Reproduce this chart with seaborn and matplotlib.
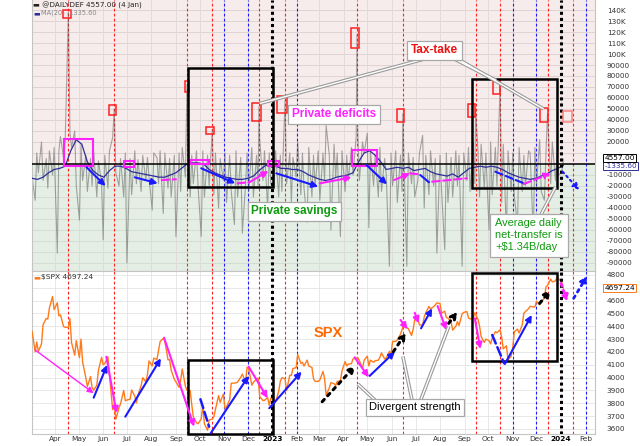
import pandas as pd
import numpy as np
import matplotlib
matplotlib.use('Agg')
import matplotlib.pyplot as plt
import matplotlib.dates as mdates
from matplotlib.patches import Rectangle
import seaborn as sns

# ---------------- data ----------------
START = '2022-03-03'
# daily deficit (thousands), sampled every 2 business days
deficit_k = [
    -12, -33, 10, -8, 20, -15, 5, -22, 12, -10, 15,            # Mar 22
    -81, 12, 25, 5, 22, 10, 28, 15, 30, -20,                    # Apr
    -51, 18, -15, 8, -25, 5, -20, 12, -30, 3, -18,              # May
    -69, 8, -22, 12, 24, 10, -8, -20, 5, -30, 10,               # Jun
    -90, 5, -28, 12, -18, 4, -25, 8, -15, 6, -12,               # Jul
    -42, 10, 6, -18, 12, -45, 10, -22, 5, -30, 8,               # Aug
    -66, 10, -25, 15, -12, 20, -30, 8, -18, 12, -20,            # Sep
    -66, 12, -30, 8, -20, 15, -28, 10, -40, 5, -15,             # Oct
    10, -35, 8, -25, -55, 12, -30, 6, -63, -20, 10,             # Nov
    -25, 15, -30, 8, -20, 22, -15, 12, -40, 10, -18,            # Dec
    -20, 12, -30, 8, -25, 15, -18, 10, -35, 6, -12,             # Jan 23
    20, -28, 10, -22, -53, 15, -30, 8, -20, 12,                 # Feb
    -33, 10, -15, 35, 8, -60, 18, -12, 10, -66, 12,             # Mar
    -25, 8, -15, 15, -10, 25, 30, -15, 20, 10,                  # Apr
    28, -58, 12, -20, 8, -30, 15, -25, 5, -10, -93, 10,         # May
    -20, 12, -35, 8, -25, 15, -93, 10, -18, 6, -30,             # Jun
    -15, 10, 26, -40, 8, -28, 12, -20, 5, -81,                  # Jul
    8, -25, -78, 10, -35, 6, -30, 12, -20, 8, -93, 10,          # Aug
    -15, 15, -25, 20, -18, 12, -30, 18, -22, 10,                # Sep
    -60, 20, -28, 15, -20, 10, -35, 18, -63, 12, -25,           # Oct
    10, -30, -55, 15, -25, 8, -20, 12, 10, -66, 15,             # Nov
    -20, 22, -25, -33, 10, 15, -18, 20, -15, 8, -10,            # Dec
    -8, 4.557,                                                  # Jan 24
]
tax_dates = ['2022-04-18', '2022-06-15', '2022-09-15', '2022-10-17', '2022-12-15',
             '2023-01-17', '2023-04-18', '2023-06-15', '2023-09-15', '2023-10-16',
             '2023-12-15']
tax_k = [138, 50, 72, 31, 52, 58, 118, 46, 50, 72, 46]

# MA(20) of the deficit (thousands), weekly readings
ma20_k = [
    -13, -14, -12, -8, -5,
    -4, -2, 12, 22,
    18, 2, -6, -10,
    -12, -6, -2, -2, -4,
    -7, -8, -9, -10,
    -11, -12, -12, -10,
    -8, -4, 0, 1, 1,
    0, -5, -8, -10,
    -12, -13, -14, -14,
    -13, -11, -6, -2, 0,
    -2, -4, -4, -5,
    -5, -7, -10, -12,
    -14, -15, -14, -12, -11,
    -10, -8, 2, 10,
    12, 8, 2, -5,
    -4, -3, -4, -3, -6,
    -5, -4, -7, -9,
    -10, -11, -9, -12, -8,
    -4, -3, -2, -3,
    -2, -3, -5, -8,
    -10, -12, -13, -14, -13,
    -11, -9, -6, -4,
    -1.336,
]

# S&P 500 closes, every 2 business days
spx_close = [
    4363, 4201, 4278, 4204, 4262, 4412, 4461, 4456, 4543, 4632, 4530,
    4583, 4481, 4488, 4397, 4392, 4391, 4459, 4272, 4175, 4288,
    4155, 4300, 4123, 4001, 3930, 4008, 3923, 3901, 3941, 4057, 4158,
    4101, 4109, 4161, 4018, 3750, 3790, 3675, 3765, 3796, 3900, 3819,
    3825, 3831, 3903, 3855, 3802, 3863, 3937, 3999, 3967, 4024, 4130,
    4091, 4152, 4140, 4210, 4280, 4305, 4284, 4138, 4141, 4058, 3986,
    3967, 3924, 3980, 4067, 3932, 3901, 3900, 3790, 3693, 3647, 3640,
    3678, 3783, 3640, 3589, 3669, 3677, 3695, 3752, 3859, 3807, 3872,
    3760, 3771, 3828, 3956, 3957, 3959, 3965, 4003, 4027, 3964, 4080,
    4072, 3941, 3963, 3991, 3996, 3852, 3821, 3822, 3845, 3783, 3840,
    3824, 3808, 3893, 3970, 3999, 3991, 3899, 4019, 4016, 4071, 4077,
    4180, 4111, 4118, 4090, 4136, 4090, 4079, 3991, 3970, 3970,
    3982, 4048, 3992, 3862, 3920, 3960, 3952, 3937, 3971, 3971, 4051,
    4125, 4091, 4105, 4109, 4146, 4151, 4155, 4133, 4071, 4135,
    4167, 4091, 4136, 4119, 4131, 4136, 4158, 4192, 4145, 4151, 4205, 4180,
    4282, 4283, 4293, 4338, 4373, 4410, 4389, 4381, 4328, 4376, 4450,
    4455, 4411, 4410, 4472, 4505, 4555, 4534, 4554, 4566, 4582,
    4577, 4502, 4518, 4468, 4464, 4437, 4370, 4400, 4436, 4406, 4497, 4508,
    4515, 4465, 4457, 4461, 4505, 4454, 4402, 4320, 4274, 4300,
    4288, 4263, 4308, 4358, 4349, 4373, 4314, 4224, 4248, 4137, 4167,
    4237, 4358, 4378, 4347, 4411, 4502, 4514, 4538, 4556, 4550, 4551,
    4595, 4567, 4586, 4622, 4707, 4719, 4768, 4746, 4754, 4781, 4770,
    4743, 4697,
]

month_labels = ['Apr', 'May', 'Jun', 'Jul', 'Aug', 'Sep', 'Oct', 'Nov', 'Dec', '2023',
                'Feb', 'Mar', 'Apr', 'May', 'Jun', 'Jul', 'Aug', 'Sep', 'Oct', 'Nov', 'Dec',
                '2024', 'Feb']
top_ticks = [140, 130, 120, 110, 100, 90, 80, 70, 60, 50, 40, 30, 20,
             -10, -20, -30, -40, -50, -60, -70, -80, -90]
bot_ticks = [4800, 4600, 4500, 4400, 4300, 4200, 4100, 4000, 3900, 3800, 3700, 3600]

red_lines = ['2022-04-18', '2022-06-15', '2022-09-15', '2022-10-17', '2022-12-15',
             '2023-01-17', '2023-04-18', '2023-06-15', '2023-09-15', '2023-10-16',
             '2023-12-15', '2024-01-16']
blue_lines = ['2022-11-01', '2022-12-01', '2023-02-01', '2023-11-01', '2023-12-01', '2024-02-01']
year_lines = ['2023-01-01', '2024-01-01']

# ---------------- style ----------------
sns.set_theme(style='white')
plt.rcParams['font.family'] = ['DejaVu Sans']
ANN = ['Liberation Sans', 'DejaVu Sans']
RED, BLUE, MAG, GRN, ORG = '#ff2020', '#1a1aff', '#ff22ff', '#0f9a0f', '#ff7a1a'

def D(s):
    return mdates.date2num(pd.Timestamp(s))

fig = plt.figure(figsize=(6.4, 4.46), dpi=100)
L, W = 32 / 640, (595 - 32) / 640
ax1 = fig.add_axes([L, 1 - 271 / 446, W, 271 / 446])
ax2 = fig.add_axes([L, 1 - 434 / 446, W, (434 - 271) / 446])
xmin, xmax = D('2022-03-03'), D('2024-02-13')

# ---------------- top panel ----------------
ax1.set_xlim(xmin, xmax)
ax1.set_ylim(-97.3, 149.1)
ax1.axhspan(0, 149.1, color='#f7ecec', zorder=0)
ax1.axhspan(-97.3, 0, color='#e5eee5', zorder=0)
for v in range(-90, 150, 10):
    ax1.axhline(v, color='#dccfcf' if v > 0 else '#cfdccf', lw=0.6, zorder=0.5)

def_df = pd.DataFrame({'date': pd.bdate_range(START, periods=len(deficit_k), freq='2B'),
                       'val': deficit_k})
tax_df = pd.DataFrame({'date': pd.to_datetime(tax_dates), 'val': tax_k})
def_df = pd.concat([def_df[~def_df['date'].isin(tax_df['date'])], tax_df]).sort_values('date')
sns.lineplot(data=def_df, x='date', y='val', ax=ax1, color='#555555', alpha=0.5,
             lw=0.8, estimator=None, zorder=2)
ma_df = pd.DataFrame({'date': pd.date_range(START, periods=len(ma20_k), freq='7D'), 'val': ma20_k})
sns.lineplot(data=ma_df, x='date', y='val', ax=ax1, color='#2e2e9a', lw=0.9,
             estimator=None, zorder=3)
ax1.axhline(0, color='black', lw=1.1, zorder=3.5)

# ---------------- bottom panel ----------------
ax2.set_xlim(xmin, xmax)
ax2.set_ylim(3560, 4831)
ax2.set_facecolor('white')
for v in range(3600, 4900, 100):
    ax2.axhline(v, color='#e4e4e4', lw=0.6, zorder=0.5)
spx_df = pd.DataFrame({'date': pd.bdate_range(START, periods=len(spx_close), freq='2B'),
                       'val': spx_close})
sns.lineplot(data=spx_df, x='date', y='val', ax=ax2, color=ORG, lw=1.0,
             estimator=None, zorder=3)

month_pos = pd.date_range('2022-04-01', periods=len(month_labels), freq='MS')
for ax in (ax1, ax2):
    for m in month_pos:
        ax.axvline(m, color='#e0d8d8' if ax is ax1 else '#e4e4e4', lw=0.6, zorder=0.6)
    for d in red_lines:
        ax.axvline(D(d), color=RED, lw=0.8, ls=(0, (2.5, 2)), zorder=1)
    for d in blue_lines:
        ax.axvline(D(d), color=BLUE, lw=0.8, ls=(0, (2.5, 2)), zorder=1)
    for d in year_lines:
        ax.axvline(D(d), color='black', lw=2.2, ls=(0, (1, 1)), zorder=4)
    ax.set_xlabel('')
    ax.set_ylabel('')
    ax.yaxis.tick_right()
    ax.tick_params(axis='x', length=0, labelsize=5.3, colors='#333333', pad=1.2)
    ax.tick_params(axis='y', length=0, labelsize=5.2, colors='#333333', pad=8.5)
    for s in ax.spines.values():
        s.set_color('#c4c4c4')
        s.set_linewidth(0.8)

ax1.set_xticks([])
ax1.set_yticks(top_ticks)
ax1.set_yticklabels([f'{v}K' if v >= 100 else f'{v * 1000}' for v in top_ticks])
ax2.set_yticks(bot_ticks)
ax2.set_yticklabels([str(v) for v in bot_ticks])
ax2.set_xticks(month_pos)
ax2.set_xticklabels(month_labels)
for lab in ax2.get_xticklabels():
    if lab.get_text() in ('2023', '2024'):
        lab.set_fontweight('bold')
        lab.set_color('black')
ax1.spines['top'].set_visible(False)

# ---------------- annotations ----------------
def rect(ax, d0, d1, v0, v1, color, lw):
    ax.add_patch(Rectangle((D(d0), v0), D(d1) - D(d0), v1 - v0, fill=False,
                           ec=color, lw=lw, zorder=6, clip_on=False))

red_rects = [('2022-04-11', '2022-04-21', 132.7, 140.0), ('2022-06-08', '2022-06-17', 44.5, 53.6),
             ('2022-09-12', '2022-09-18', 65.5, 75.5), ('2022-10-09', '2022-10-19', 27.3, 33.6),
             ('2022-12-06', '2022-12-18', 39.1, 55.5), ('2023-01-07', '2023-01-20', 46.4, 61.8),
             ('2023-04-11', '2023-04-20', 105.5, 123.6), ('2023-06-07', '2023-06-16', 38.2, 50.0),
             ('2023-09-05', '2023-09-14', 42.7, 54.6), ('2023-10-07', '2023-10-16', 63.6, 76.4),
             ('2023-12-05', '2023-12-15', 38.2, 50.9)]
for r in red_rects:
    rect(ax1, *r, RED, 1.1)
rect(ax1, '2024-01-04', '2024-01-15', 38.2, 48.2, '#ff8080', 1.1)

mag_rects = [('2022-04-12', '2022-05-19', -1.5, 22.5), ('2022-06-27', '2022-07-10', -2.5, 3.0),
             ('2022-09-19', '2022-10-13', -0.3, 3.6), ('2022-12-26', '2023-01-09', -1.8, 3.0),
             ('2023-04-12', '2023-05-13', -1.8, 12.7)]
for r in mag_rects:
    rect(ax1, *r, MAG, 1.5)

rect(ax1, '2022-09-16', '2023-01-02', -20.9, 87.3, 'black', 1.8)
rect(ax1, '2023-09-11', '2023-12-27', -21.8, 77.3, 'black', 1.8)
rect(ax2, '2022-09-16', '2023-01-02', 3562, 4137, 'black', 1.8)
rect(ax2, '2023-09-11', '2023-12-27', 4132, 4813, 'black', 1.8)

def arrow(ax, d0, v0, d1, v1, color, ls='-', head=True, lw=1.5):
    ax.annotate('', xy=(D(d1), v1), xytext=(D(d0), v0), zorder=7, annotation_clip=False,
                arrowprops=dict(arrowstyle='-|>' if head else '-', color=color, lw=lw,
                                linestyle=ls, shrinkA=0, shrinkB=0, mutation_scale=9))

top_arrows = [
    ('2022-05-11', -3.0, '2022-06-04', -20.0, BLUE, '-', True),
    ('2022-07-11', -12.1, '2022-08-09', -17.6, BLUE, '-', True),
    ('2022-08-14', -14.6, '2022-09-01', -13.9, MAG, '--', False),
    ('2022-10-03', -3.9, '2022-11-15', -17.6, BLUE, '-', True),
    ('2022-11-18', -17.6, '2022-12-02', -16.6, MAG, '--', False),
    ('2022-12-02', -17.0, '2022-12-27', -6.4, MAG, '-', True),
    ('2023-01-06', -8.5, '2023-02-28', -20.6, BLUE, '-', True),
    ('2023-03-02', -17.6, '2023-04-11', -12.1, MAG, '-', True),
    ('2023-04-30', -0.9, '2023-05-26', -18.5, BLUE, '-', True),
    ('2023-06-04', -14.6, '2023-06-24', -8.5, MAG, '-', True),
    ('2023-06-24', -8.5, '2023-07-07', -9.5, MAG, '--', False),
    ('2023-07-07', -10.0, '2023-07-18', -16.6, BLUE, '-', False),
    ('2023-07-22', -16.1, '2023-09-04', -13.0, MAG, '--', False),
    ('2023-10-10', -7.0, '2023-11-15', -17.6, BLUE, '--', False),
    ('2023-11-15', -18.2, '2023-12-19', -8.5, MAG, '--', True),
    ('2024-01-03', -7.0, '2024-01-24', -23.6, BLUE, ':', True),
]
for a in top_arrows:
    arrow(ax1, *a)

bot_arrows = [
    ('2022-03-07', 4215, '2022-05-20', 3878, MAG, '-', True, 1.0),
    ('2022-05-20', 3843, '2022-06-06', 4098, BLUE, '-', True, 1.5),
    ('2022-06-05', 4163, '2022-06-18', 3722, MAG, '-', True, 1.5),
    ('2022-06-29', 3695, '2022-08-13', 4150, BLUE, '-', True, 1.5),
    ('2022-08-17', 4311, '2022-09-24', 3617, MAG, '-', True, 1.5),
    ('2022-10-02', 3831, '2022-10-13', 3617, BLUE, '--', False, 1.8),
    ('2022-10-15', 3566, '2022-12-02', 4013, BLUE, '-', True, 1.5),
    ('2022-12-02', 4085, '2022-12-26', 3839, MAG, '-', True, 1.5),
    ('2022-12-28', 3761, '2023-02-07', 4046, BLUE, '-', True, 1.5),
    ('2023-03-05', 3812, '2023-04-16', 4093, 'black', ':', True, 2.2),
    ('2023-04-15', 4158, '2023-05-03', 4002, MAG, '-', True, 1.5),
    ('2023-05-04', 4013, '2023-06-05', 4202, BLUE, '-', True, 1.5),
    ('2023-06-03', 4202, '2023-06-19', 4350, 'black', ':', True, 2.2),
    ('2023-06-12', 4449, '2023-06-21', 4377, MAG, '-', True, 1.5),
    ('2023-06-30', 4506, '2023-07-05', 4423, MAG, '-', True, 1.5),
    ('2023-07-08', 4384, '2023-07-22', 4540, BLUE, '-', True, 1.5),
    ('2023-07-29', 4558, '2023-08-09', 4371, MAG, '-', True, 1.5),
    ('2023-08-12', 4423, '2023-08-23', 4514, 'black', ':', True, 2.2),
    ('2023-09-14', 4462, '2023-09-21', 4223, MAG, '-', True, 1.5),
    ('2023-10-06', 4332, '2023-10-21', 4112, BLUE, '--', False, 1.8),
    ('2023-10-22', 4106, '2023-11-25', 4488, BLUE, '-', True, 1.5),
    ('2023-12-05', 4579, '2023-12-19', 4683, 'black', ':', True, 2.2),
    ('2024-01-01', 4735, '2024-01-09', 4592, MAG, ':', True, 2.0),
    ('2024-01-17', 4618, '2024-02-03', 4792, BLUE, ':', True, 2.0),
]
for a in bot_arrows:
    arrow(ax2, *a[:7], lw=a[7])

def callout(ax, d0, v0, d1, v1):
    xs, ys = [D(d0), D(d1)], [v0, v1]
    ax.plot(xs, ys, color='#9a9a9a', lw=2.6, zorder=7.5, solid_capstyle='butt', clip_on=False)
    ax.plot(xs, ys, color='white', lw=1.0, zorder=7.6, solid_capstyle='butt', clip_on=False)

# Tax-take
callout(ax1, '2023-07-20', 97.0, '2022-12-16', 55.0)
callout(ax1, '2023-08-15', 97.0, '2023-10-11', 76.0)
callout(ax1, '2023-08-20', 97.0, '2023-12-10', 50.0)
box = dict(boxstyle='square,pad=0.3', fc='white', ec='#a8a8a8', lw=0.9)
ax1.text(D('2023-07-25'), 103.2, 'Tax-take', color='#ee1111', fontsize=8.5, fontweight='bold',
         family=ANN, ha='center', va='center', bbox=box, zorder=9)
ax1.text(D('2023-03-20'), 45.0, 'Private deficits', color=MAG, fontsize=8.5, fontweight='bold',
         family=ANN, ha='center', va='center', bbox=box, zorder=9)
ax1.text(D('2023-01-29'), -43.0, 'Private savings', color=GRN, fontsize=8.5, fontweight='bold',
         family=ANN, ha='center', va='center', bbox=box, zorder=9)
callout(ax1, '2023-12-06', -47.0, '2023-12-25', -21.0)
ax1.text(D('2023-10-10'), -65.0, 'Average daily\nnet-transfer is\n+$1.34B/day', color=GRN,
         fontsize=7.9, family=ANN, ha='left', va='center', linespacing=1.25,
         bbox=dict(boxstyle='square,pad=0.45', fc='white', ec='#a8a8a8', lw=0.9), zorder=9)

ax2.text(D('2023-03-13'), 4348, 'SPX', color='#ff6a00', fontsize=10.5, fontweight='bold',
         family=ANN, ha='center', va='center', zorder=9)
callout(ax2, '2023-05-18', 3783, '2023-04-19', 3950)
callout(ax2, '2023-06-28', 3783, '2023-06-15', 4165)
callout(ax2, '2023-07-05', 3783, '2023-08-12', 4398)
ax2.text(D('2023-06-30'), 3767, 'Divergent strength', color='black', fontsize=8, family=ANN,
         ha='center', va='center', bbox=box, zorder=9)

# legends
def P(x, y):
    return (x / 640, 1 - y / 446)

fig.text(*P(33, 5), '\u25ac @DAILYDEF 4557.00 (4 Jan)', fontsize=5.2, color='#222222', va='center')
fig.text(*P(33, 13), '\u25ac', fontsize=5.0, color='#2e2e9a', va='center')
fig.text(*P(41, 13), 'MA(20) -1335.60', fontsize=4.8, color='#888888', va='center')
fig.text(*P(33, 277), '\u25ac', fontsize=5.4, color=ORG, va='center')
fig.text(*P(41, 277), '$SPX 4697.24', fontsize=5.4, color='#333333', va='center')

# right-side value boxes
ax1.annotate('4557.00', xy=(1.017, 5.5), xycoords=('axes fraction', 'data'), fontsize=5.4,
             color='black', va='center', ha='left', annotation_clip=False, zorder=10,
             bbox=dict(boxstyle='square,pad=0.15', fc='white', ec='black', lw=0.7))
ax1.annotate('-1335.60', xy=(1.017, -1.8), xycoords=('axes fraction', 'data'), fontsize=5.2,
             color='#2e2e9a', va='center', ha='left', annotation_clip=False, zorder=9,
             bbox=dict(boxstyle='square,pad=0.15', fc='white', ec='#2e2e9a', lw=0.7))
ax2.annotate('4697.24', xy=(1.017, 4697), xycoords=('axes fraction', 'data'), fontsize=5.4,
             color='black', va='center', ha='left', annotation_clip=False, zorder=10,
             bbox=dict(boxstyle='square,pad=0.15', fc='white', ec=ORG, lw=0.7))

fig.savefig('out.png', dpi=100)
